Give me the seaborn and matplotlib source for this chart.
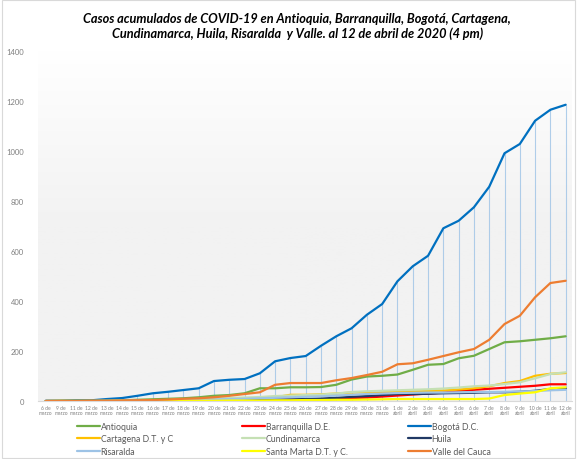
import numpy as np
import pandas as pd
import matplotlib
matplotlib.use("Agg")
import matplotlib.pyplot as plt
import seaborn as sns
from matplotlib.lines import Line2D
from matplotlib.patches import Rectangle
from matplotlib.colors import LinearSegmentedColormap

# ---------------- data ----------------
dates = ["6 de\nmarzo", "9 de\nmarzo"] + [f"{d} de\nmarzo" for d in range(11, 32)] + [f"{d} de\nabril" for d in range(1, 13)]

antioquia = [0, 1, 1, 1, 2, 3, 5, 7, 9, 11, 15, 21, 24, 31, 51, 51, 55, 55, 56, 65, 86, 98, 101, 106, 125, 145, 148, 171, 181, 208, 235, 239, 245, 251, 259]
barranquilla = [0, 0, 0, 0, 0, 0, 1, 1, 1, 2, 2, 3, 3, 4, 4, 5, 6, 7, 8, 10, 12, 14, 18, 22, 26, 30, 34, 40, 45, 49, 53, 57, 61, 67, 67]
bogota = [1, 1, 3, 3, 8, 12, 21, 31, 37, 44, 51, 80, 85, 88, 111, 159, 172, 180, 221, 259, 291, 345, 388, 479, 539, 581, 691, 721, 775, 857, 991, 1028, 1121, 1165, 1185]
cartagena = [0, 1, 1, 1, 1, 2, 2, 3, 4, 5, 6, 7, 8, 10, 12, 15, 25, 25, 27, 30, 34, 36, 36, 36, 38, 40, 42, 46, 51, 59, 72, 80, 101, 109, 112]
cundinamarca = [0, 0, 0, 0, 1, 1, 2, 3, 4, 6, 8, 10, 12, 14, 16, 20, 22, 24, 26, 30, 36, 39, 41, 43, 45, 47, 50, 54, 59, 62, 68, 75, 91, 108, 115]
huila = [0, 0, 0, 0, 0, 0, 1, 1, 1, 2, 2, 3, 3, 4, 5, 6, 7, 8, 10, 13, 17, 20, 24, 28, 28, 29, 31, 32, 33, 35, 35, 37, 41, 48, 51]
risaralda = [0, 0, 0, 0, 0, 1, 1, 2, 3, 4, 5, 6, 8, 9, 11, 13, 15, 17, 19, 22, 25, 28, 30, 32, 33, 34, 34, 35, 36, 36, 37, 38, 40, 43, 45]
santa_marta = [0, 0, 0, 0, 0, 0, 0, 0, 0, 1, 1, 1, 2, 2, 2, 3, 3, 4, 4, 5, 5, 6, 7, 8, 8, 8, 8, 8, 8, 10, 24, 30, 35, 51, 55]
valle = [0, 0, 0, 1, 1, 2, 3, 4, 6, 9, 11, 15, 21, 28, 35, 65, 72, 72, 72, 83, 92, 104, 117, 147, 151, 165, 180, 195, 208, 245, 308, 341, 415, 472, 481]

series_names = ["Antioquia", "Barranquilla D.E.", "Bogotá D.C.", "Cartagena D.T. y C", "Cundinamarca",
                "Huila", "Risaralda", "Santa Marta D.T. y C.", "Valle del Cauca"]
series_values = [antioquia, barranquilla, bogota, cartagena, cundinamarca, huila, risaralda, santa_marta, valle]
colors = ["#70AD47", "#FF0000", "#0070C0", "#FFC000", "#C5E0B4", "#203864", "#9DC3E6", "#FFFF00", "#ED7D31"]
yticks = [0, 200, 400, 600, 800, 1000, 1200, 1400]

title = ("Casos acumulados de COVID-19 en Antioquia, Barranquilla, Bogotá, Cartagena,\n"
         "Cundinamarca, Huila, Risaralda  y Valle. al 12 de abril de 2020 (4 pm)")

# ---------------- long-form table ----------------
rows = []
for name, vals in zip(series_names, series_values):
    assert len(vals) == len(dates)
    for i, v in enumerate(vals):
        rows.append({"idx": i, "fecha": dates[i], "serie": name, "casos": v})
df = pd.DataFrame(rows)
palette = dict(zip(series_names, colors))

# ---------------- figure ----------------
sns.set_theme(style="white")
plt.rcParams["font.family"] = ["Lato", "DejaVu Sans"]

fig = plt.figure(figsize=(5.77, 4.60), dpi=100)
fig.patch.set_facecolor("white")
fig.add_artist(Rectangle((0.003, 0.003), 0.994, 0.994, transform=fig.transFigure,
                         fill=False, edgecolor="#D9D9D9", linewidth=0.8))

ax = fig.add_axes([0.066, 0.126, 0.925, 0.761])

# gradient background
grad = np.linspace(0, 1, 256).reshape(-1, 1)
cmap = LinearSegmentedColormap.from_list("bg", ["#F2F2F2", "#F2F2F2", "#FFFFFF"])
ax.imshow(grad, aspect="auto", cmap=cmap, extent=[-0.5, 34.4, 0, 1400], origin="lower", zorder=0)

# drop lines from Bogotá
ax.vlines(range(len(dates)), 0, bogota, color="#9DC3E6", linewidth=0.8, alpha=0.8, zorder=1)

sns.lineplot(data=df, x="idx", y="casos", hue="serie", palette=palette, hue_order=series_names,
             linewidth=1.6, ax=ax, legend=False, zorder=2)

ax.set_xlim(-0.5, 34.4)
ax.set_ylim(0, 1400)
ax.set_yticks(yticks)
ax.set_yticklabels([str(t) for t in yticks], fontsize=5.5, color="#7F7F7F")
ax.set_xticks(range(len(dates)))
ax.set_xticklabels(dates, fontsize=3.6, color="#7F7F7F", linespacing=1.0)
ax.tick_params(axis="both", length=0, pad=3)
ax.tick_params(axis="y", pad=10)
ax.set_xlabel("")
ax.set_ylabel("")
for s in ["top", "right", "left"]:
    ax.spines[s].set_visible(False)
ax.spines["bottom"].set_color("#D9D9D9")
ax.spines["bottom"].set_linewidth(0.8)
ax.set_facecolor("none")

fig.text(0.515, 0.972, title, ha="center", va="top", fontsize=9.2, fontweight="bold",
         fontstyle="italic", color="#000000", linespacing=1.25)

# legend: three columns placed explicitly
col_x = [77 / 577, 242 / 577, 408 / 577]
for c in range(3):
    idxs = [c, c + 3, c + 6]
    handles = [Line2D([0], [0], color=colors[i], linewidth=1.6) for i in idxs]
    labels = [series_names[i] for i in idxs]
    leg = fig.legend(handles, labels, ncol=1, loc="upper left", bbox_to_anchor=(col_x[c], 1 - 423 / 460),
                     frameon=False, fontsize=6.3, handlelength=2.6, handletextpad=0.1,
                     labelspacing=0.4, borderaxespad=0, borderpad=0)
    for t in leg.get_texts():
        t.set_color("#595959")

fig.savefig("out.png", dpi=100)
